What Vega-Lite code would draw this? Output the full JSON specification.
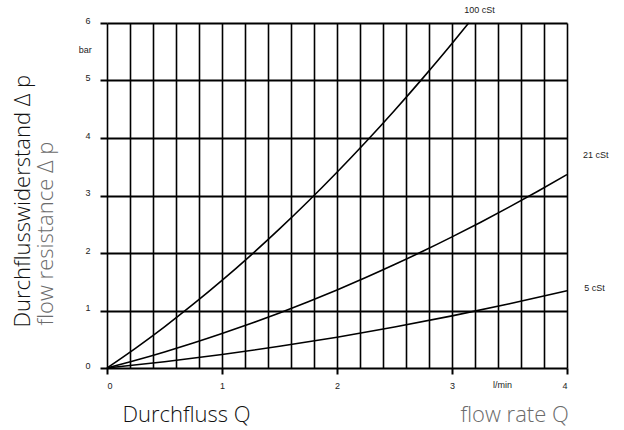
{
  "$schema": "https://vega.github.io/schema/vega-lite/v6.json",
  "width": 460,
  "height": 345,
  "autosize": "none",
  "padding": {"left": 107, "top": 23, "right": 57, "bottom": 62},
  "background": "white",
  "config": {
    "view": {"stroke": null},
    "axis": {"labelFont": "Liberation Sans", "labelFontSize": 9, "labelColor": "#222222", "titleFont": "Open Sans", "titleFontWeight": 300, "titleFontSize": 22}
  },
  "datasets": {
    "curves": [
      {"curve": "100 cSt", "Q": 0, "p": 0},
      {"curve": "100 cSt", "Q": 0.25, "p": 0.347},
      {"curve": "100 cSt", "Q": 0.5, "p": 0.717},
      {"curve": "100 cSt", "Q": 0.75, "p": 1.109},
      {"curve": "100 cSt", "Q": 1.0, "p": 1.523},
      {"curve": "100 cSt", "Q": 1.25, "p": 1.96},
      {"curve": "100 cSt", "Q": 1.5, "p": 2.419},
      {"curve": "100 cSt", "Q": 1.75, "p": 2.9},
      {"curve": "100 cSt", "Q": 2.0, "p": 3.404},
      {"curve": "100 cSt", "Q": 2.25, "p": 3.93},
      {"curve": "100 cSt", "Q": 2.5, "p": 4.479},
      {"curve": "100 cSt", "Q": 2.75, "p": 5.05},
      {"curve": "100 cSt", "Q": 3.0, "p": 5.643},
      {"curve": "100 cSt", "Q": 3.145, "p": 6.0},
      {"curve": "21 cSt", "Q": 0, "p": 0},
      {"curve": "21 cSt", "Q": 0.25, "p": 0.134},
      {"curve": "21 cSt", "Q": 0.5, "p": 0.279},
      {"curve": "21 cSt", "Q": 0.75, "p": 0.433},
      {"curve": "21 cSt", "Q": 1.0, "p": 0.598},
      {"curve": "21 cSt", "Q": 1.25, "p": 0.773},
      {"curve": "21 cSt", "Q": 1.5, "p": 0.958},
      {"curve": "21 cSt", "Q": 1.75, "p": 1.153},
      {"curve": "21 cSt", "Q": 2.0, "p": 1.358},
      {"curve": "21 cSt", "Q": 2.25, "p": 1.573},
      {"curve": "21 cSt", "Q": 2.5, "p": 1.799},
      {"curve": "21 cSt", "Q": 2.75, "p": 2.034},
      {"curve": "21 cSt", "Q": 3.0, "p": 2.28},
      {"curve": "21 cSt", "Q": 3.25, "p": 2.536},
      {"curve": "21 cSt", "Q": 3.5, "p": 2.802},
      {"curve": "21 cSt", "Q": 3.75, "p": 3.078},
      {"curve": "21 cSt", "Q": 4.0, "p": 3.364},
      {"curve": "5 cSt", "Q": 0, "p": 0},
      {"curve": "5 cSt", "Q": 0.5, "p": 0.109},
      {"curve": "5 cSt", "Q": 1.0, "p": 0.234},
      {"curve": "5 cSt", "Q": 1.5, "p": 0.377},
      {"curve": "5 cSt", "Q": 2.0, "p": 0.536},
      {"curve": "5 cSt", "Q": 2.5, "p": 0.713},
      {"curve": "5 cSt", "Q": 3.0, "p": 0.906},
      {"curve": "5 cSt", "Q": 3.5, "p": 1.117},
      {"curve": "5 cSt", "Q": 4.0, "p": 1.344}
    ],
    "labels": [
      {"text": "100 cSt", "Q": 3.24, "p": 6.22},
      {"text": "21 cSt", "Q": 4.25, "p": 3.7},
      {"text": "5 cSt", "Q": 4.24, "p": 1.4},
      {"text": "bar", "Q": -0.19, "p": 5.53},
      {"text": "l/min", "Q": 3.44, "p": -0.29}
    ]
  },
  "layer": [
    {
      "data": {"name": "curves"},
      "mark": {"type": "line", "color": "black", "strokeWidth": 1.6, "interpolate": "monotone", "clip": false},
      "encoding": {
        "x": {
          "field": "Q", "type": "quantitative",
          "scale": {"domain": [0, 4], "nice": false, "zero": false},
          "axis": {
            "orient": "bottom",
            "values": [0, 0.2, 0.4, 0.6, 0.8, 1, 1.2, 1.4, 1.6, 1.8, 2, 2.2, 2.4, 2.6, 2.8, 3, 3.2, 3.4, 3.6, 3.8, 4],
            "grid": true, "gridColor": "black", "gridWidth": 1.6, "gridOpacity": 1,
            "ticks": false, "labels": false, "domain": false,
            "title": "Durchfluss Q", "titleColor": "#111111",
            "titleAnchor": "start", "titleAlign": "left", "titleBaseline": "middle",
            "titleX": 15, "titleY": 46
          }
        },
        "y": {
          "field": "p", "type": "quantitative",
          "scale": {"domain": [0, 6], "nice": false, "zero": false},
          "axis": {
            "orient": "left",
            "values": [0, 1, 2, 3, 4, 5, 6],
            "grid": true, "gridColor": "black", "gridWidth": 2, "gridOpacity": 1,
            "ticks": true, "tickSize": 7, "tickColor": "black", "tickWidth": 2,
            "labelPadding": 10, "labelOffset": -3, "domain": false,
            "title": "Durchflusswiderstand Δ p", "titleColor": "#111111",
            "titleAngle": 270, "titleAlign": "left", "titleBaseline": "middle",
            "titleX": -85, "titleY": 304
          }
        },
        "detail": {"field": "curve"}
      }
    },
    {
      "data": {"name": "labels"},
      "mark": {"type": "text", "font": "Liberation Sans", "fontSize": 9, "color": "#222222", "align": "center", "baseline": "middle", "clip": false},
      "encoding": {
        "x": {
          "field": "Q", "type": "quantitative",
          "axis": {
            "orient": "bottom",
            "values": [0, 1, 2, 3, 4],
            "grid": false, "ticks": true, "tickSize": 6, "tickColor": "black", "tickWidth": 2,
            "labelPadding": 7, "domain": false,
            "title": "flow rate Q", "titleColor": "#6b6b6b",
            "titleAnchor": "start", "titleAlign": "left", "titleBaseline": "middle",
            "titleX": 353, "titleY": 46
          }
        },
        "y": {
          "field": "p", "type": "quantitative",
          "axis": {
            "orient": "left",
            "grid": false, "ticks": false, "labels": false, "domain": false,
            "title": "flow resistance Δ p", "titleColor": "#6b6b6b",
            "titleAngle": 270, "titleAlign": "left", "titleBaseline": "middle",
            "titleX": -62, "titleY": 302
          }
        },
        "text": {"field": "text"}
      }
    }
  ],
  "resolve": {"axis": {"x": "independent", "y": "independent"}}
}
